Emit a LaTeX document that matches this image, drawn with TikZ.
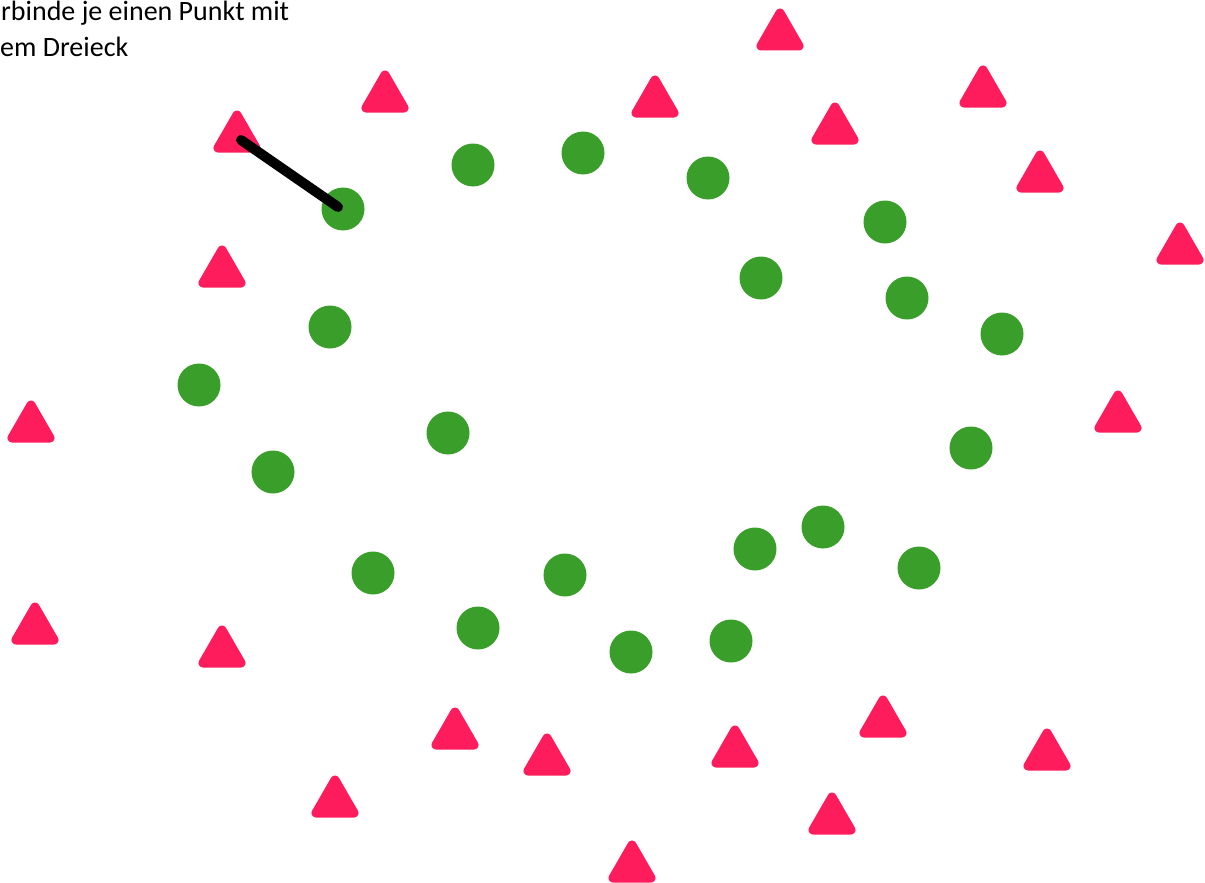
\documentclass[tikz,border=0pt]{standalone}
\usepackage{fontspec}
\setmainfont{Carlito}
\usetikzlibrary{shapes.geometric}
\definecolor{dreieckrot}{RGB}{255,28,92}
\definecolor{punktgruen}{RGB}{58,158,42}
\tikzset{
  dreieck/.style={regular polygon, regular polygon sides=3, fill=dreieckrot,
    draw=dreieckrot, line width=9pt, line join=round, minimum size=44pt, inner sep=0pt},
  punkt/.style={circle, fill=punktgruen, minimum size=43pt, inner sep=0pt},
  aufgabe/.style={anchor=base west, inner sep=0pt, font=\fontsize{28}{32}\selectfont}
}

\begin{document}
\begin{tikzpicture}[x=1pt, y=-1pt]
	\useasboundingbox (0,0) rectangle (1205,883);
	% Aufgabentext:
	\node[aufgabe] (zeile1) at (1,21) {rbinde je einen Punkt mit};
	\node[aufgabe] (zeile2) at (0,57) {em Dreieck};
	% Dreiecke:
	\foreach \x/\y [count=\i] in {780/35, 385/97, 237/137, 655/102, 835/129, 983/92,
		1040/177, 1180/249, 222/272, 31/427, 1118/417, 35/629, 222/652, 455/734,
		547/760, 735/752, 883/722, 1047/755, 335/802, 832/819, 632/867}
		\node[dreieck] (d\i) at (\x,\y) {};
	% Punkte:
	\foreach \x/\y [count=\i] in {343/209, 473/165, 583/153, 708/178, 885/222,
		761/278, 907/298, 1002/334, 330/327, 199/385, 448/433, 273/472, 971/448,
		823/527, 755/549, 919/568, 373/573, 565/575, 478/628, 631/652, 731/641}
		\node[punkt] (p\i) at (\x,\y) {};
	% Verbindung:
	\draw[line width=10pt, line cap=round] ([shift={(4,3)}]d3.center) -- ([shift={(-5,-2)}]p1.center);
\end{tikzpicture}
\end{document}
